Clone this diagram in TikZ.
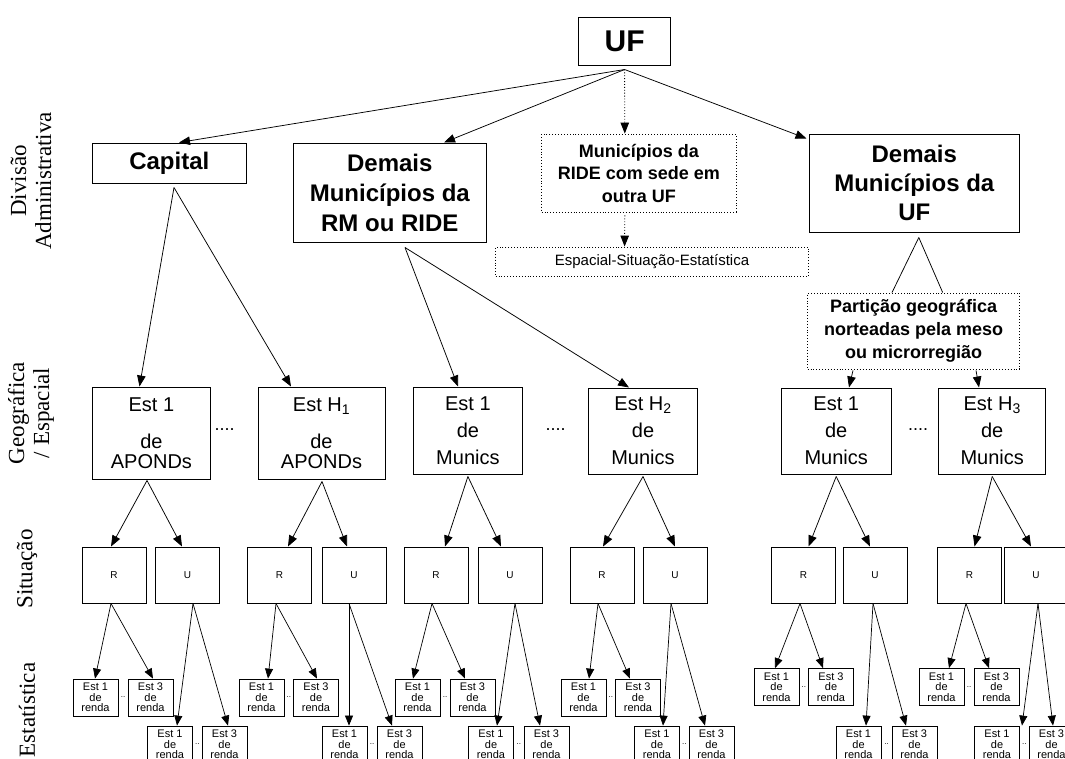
\documentclass[tikz,border=0pt]{standalone}
\usepackage{fontspec}
\setmainfont{Liberation Serif}
\setsansfont{Liberation Sans}
\usetikzlibrary{arrows.meta,calc}
\newcommand{\myln}[6][arr]{\draw[#1] ([shift={(#3,#4)}]#2.south) -- ([shift={(#6,0)}]#5.north);}
\begin{document}
\begin{tikzpicture}[x=1pt,y=-1pt,
 box/.style={draw,line width=1pt,inner sep=0pt,align=center,font=\sffamily},
 dbox/.style={draw,dotted,line width=0.9pt,inner sep=0pt,align=center},
 arr/.style={line width=0.75pt,-{Triangle[length=11pt,width=8.5pt]}},
 darr/.style={line width=0.9pt,dotted,-{Triangle[length=11pt,width=8.5pt]}},
 ln/.style={line width=0.75pt},
 lab/.style={rotate=90,align=center,inner sep=0pt,font=\fontsize{23}{25}\selectfont},
 gbox/.style={box,font=\sffamily\fontsize{20}{27}\selectfont},
 rbox/.style={box,minimum width=64pt,minimum height=56pt,font=\sffamily\fontsize{10}{12}\selectfont},
 sbox/.style={box,line width=0.8pt,minimum width=45pt,minimum height=37pt,font=\sffamily\fontsize{11}{10.5}\selectfont},
 sarr/.style={line width=0.7pt,-{Triangle[length=10pt,width=8pt]}},
 gdots/.style={font=\sffamily\fontsize{18}{18}\selectfont,inner sep=0pt},
 sdots/.style={font=\sffamily\fontsize{8}{8}\selectfont,inner sep=0pt},
]
\useasboundingbox (0,0) rectangle (1065,758);
\fill[white] (0,0) rectangle (1065,758);
\clip (0,0) rectangle (1065,758);

% side labels
\node[lab] (lDiv) at (31,181) {Divisão\\Administrativa};
\node[lab] (lGeo) at (31,413) {Geográfica\\/ Espacial};
\node[lab] (lSit) at (27,569) {Situação};
\node[lab] (lEst) at (27,710) {Estatística};

% level 0 and 1
\node[box,minimum width=92pt,minimum height=48pt,font=\sffamily\bfseries\fontsize{30}{32}\selectfont] (uf) at (624.6,41) {UF};
\node[box,minimum width=154.6pt,minimum height=40pt,font=\sffamily\bfseries\fontsize{24}{30}\selectfont] (cap) at (169.3,163) {Capital};
\node[box,minimum width=192.8pt,minimum height=99pt,font=\sffamily\bfseries\fontsize{24}{30}\selectfont] (rm) at (389.8,192.5) {Demais\\Municípios da\\RM ou RIDE};
\node[dbox,minimum width=194.4pt,minimum height=78pt,font=\sffamily\bfseries\fontsize{18}{22.5}\selectfont] (ride) at (638.8,173) {Municípios da\\RIDE com sede em\\outra UF};
\node[dbox,minimum width=312.7pt,minimum height=29pt,font=\sffamily\fontsize{15}{17}\selectfont] (esp) at (652,261.5) {Espacial-Situação-Estatística};
\node[box,minimum width=210.6pt,minimum height=98pt,font=\sffamily\bfseries\fontsize{24}{29}\selectfont] (duf) at (914.3,183) {Demais\\Municípios da\\UF};
\node[dbox,minimum width=212pt,minimum height=76pt,font=\sffamily\bfseries\fontsize{18}{23}\selectfont] (part) at (913.6,331) {Partição geográfica\\norteadas pela meso\\ou microrregião};

% level 2
\node[gbox,minimum width=118.7pt,minimum height=92pt] (g1) at (151.4,433) {Est 1\\[10pt]de\\[-7pt]APONDs};
\node[gbox,minimum width=127pt,minimum height=92pt] (g2) at (321.5,433) {Est H\textsubscript{1}\\[10pt]de\\[-7pt]APONDs};
\node[gbox,minimum width=109.7pt,minimum height=87pt] (g3) at (467.9,430.5) {Est 1\\de\\Munics};
\node[gbox,minimum width=108.5pt,minimum height=86pt] (g4) at (643,431) {Est H\textsubscript{2}\\de\\Munics};
\node[gbox,minimum width=109.6pt,minimum height=86pt] (g5) at (836.2,431) {Est 1\\de\\Munics};
\node[gbox,minimum width=107.5pt,minimum height=86pt] (g6) at (992.2,431) {Est H\textsubscript{3}\\de\\Munics};
\node[gdots] (d12) at (224.7,430) {....};
\node[gdots] (d34) at (555.6,430) {....};
\node[gdots] (d56) at (918,430) {....};

% level 3
\foreach \n/\x/\t in {r1/114/R,u1/187.5/U,r2/279.5/R,u2/354/U,r3/436/R,u3/510/U,r4/602/R,u4/675/U,r5/803.5/R,u5/875/U,r6/969.5/R,u6/1036/U}
  \node[rbox] (\n) at (\x,575) {\t};

% level 4
\foreach \n/\x/\y/\k in {r1a/95.5/697.5/1,r1b/150.5/697.5/3,u1a/170/744.5/1,u1b/224.5/744.5/3,
  r2a/261.5/697.5/1,r2b/316/697.5/3,u2a/344.5/744.5/1,u2b/399.5/744.5/3,
  r3a/417.5/697.5/1,r3b/472.5/697.5/3,u3a/491/744.5/1,u3b/546.5/744.5/3,
  r4a/583.5/697.5/1,r4b/638/697.5/3,u4a/657/744.5/1,u4b/711.5/744.5/3,
  r5a/776.5/687/1,r5b/831/687/3,u5a/858.5/744.5/1,u5b/914.5/744.5/3,
  r6a/941.5/687/1,r6b/996.5/687/3,u6a/997/744.5/1,u6b/1051.5/744.5/3}
  \node[sbox] (\n) at (\x,\y) {Est \k\\de\\renda};
\foreach \p in {r1,u1,r2,u2,r3,u3,r4,u4,r5,u5,r6,u6}
  \node[sdots] (\p dots) at ($(\p a.east)!0.5!(\p b.west)$) {..};

% connectors level 0 -> 1
\draw[arr] ([shift={(0,4)}]uf.south) -- ([shift={(9.7,0)}]cap.north);
\draw[arr] ([shift={(0,4)}]uf.south) -- ([shift={(54.2,0)}]rm.north);
\draw[darr] ([shift={(0,4)}]uf.south) -- ([shift={(-14,0)}]ride.north);
\draw[arr] ([shift={(0,4)}]uf.south) -- ([shift={(-2,5)}]duf.north west);
\draw[darr] ([shift={(-14,3)}]ride.south) -- ([shift={(-27.4,0)}]esp.north);

% level 1 -> 2
\myln{cap}{4.7}{4}{g1}{-11.9}
\myln{cap}{4.7}{4}{g2}{-30.5}
\myln{rm}{15.2}{5}{g3}{-9.9}
\myln{rm}{15.2}{5}{g4}{-14}
\myln[ln]{duf}{4.5}{5}{part}{-21.6}
\myln[ln]{duf}{4.5}{5}{part}{29.1}
\myln{part}{-60.6}{1}{g5}{12.8}
\myln{part}{62.4}{1}{g6}{-13.2}

% level 2 -> 3
\myln{g1}{-4.4}{1}{r1}{-3}
\myln{g1}{-4.4}{1}{u1}{-5.5}
\myln{g2}{0.5}{2}{r2}{8.5}
\myln{g2}{0.5}{2}{u2}{-7}
\myln{g3}{0}{2}{r3}{9}
\myln{g3}{0}{2}{u3}{-9}
\myln{g4}{0}{2}{r4}{1}
\myln{g4}{0}{2}{u4}{0}
\myln{g5}{0}{2}{r5}{5}
\myln{g5}{0}{2}{u5}{-5}
\myln{g6}{0}{2}{r6}{5}
\myln{g6}{0}{2}{u6}{-5}

% level 3 -> 4
\myln[sarr]{r1}{-3}{0}{r1a}{-0.5}
\myln[sarr]{r1}{-3}{0}{r1b}{2.5}
\myln[sarr]{u1}{5.5}{0}{u1a}{7}
\myln[sarr]{u1}{5.5}{0}{u1b}{3.5}
\myln[sarr]{r2}{-3.5}{0}{r2a}{6.5}
\myln[sarr]{r2}{-3.5}{0}{r2b}{1}
\myln[sarr]{u2}{-5}{0}{u2a}{4.5}
\myln[sarr]{u2}{-5}{0}{u2b}{-7.5}
\myln[sarr]{r3}{-4}{0}{r3a}{-4.5}
\myln[sarr]{r3}{-4}{0}{r3b}{-7.5}
\myln[sarr]{u3}{5}{0}{u3a}{6}
\myln[sarr]{u3}{5}{0}{u3b}{-6.5}
\myln[sarr]{r4}{-4}{0}{r4a}{5.5}
\myln[sarr]{r4}{-4}{0}{r4b}{-8}
\myln[sarr]{u4}{-4}{0}{u4a}{6}
\myln[sarr]{u4}{-4}{0}{u4b}{-6.5}
\myln[sarr]{r5}{-3.5}{0}{r5a}{-1.5}
\myln[sarr]{r5}{-3.5}{0}{r5b}{-8}
\myln[sarr]{u5}{-2}{0}{u5a}{7.5}
\myln[sarr]{u5}{-2}{0}{u5b}{-8.5}
\myln[sarr]{r6}{-3.5}{0}{r6a}{7.5}
\myln[sarr]{r6}{-3.5}{0}{r6b}{-7.5}
\myln[sarr]{u6}{2}{0}{u6a}{25}
\myln[sarr]{u6}{2}{0}{u6b}{1.5}
\end{tikzpicture}
\end{document}
